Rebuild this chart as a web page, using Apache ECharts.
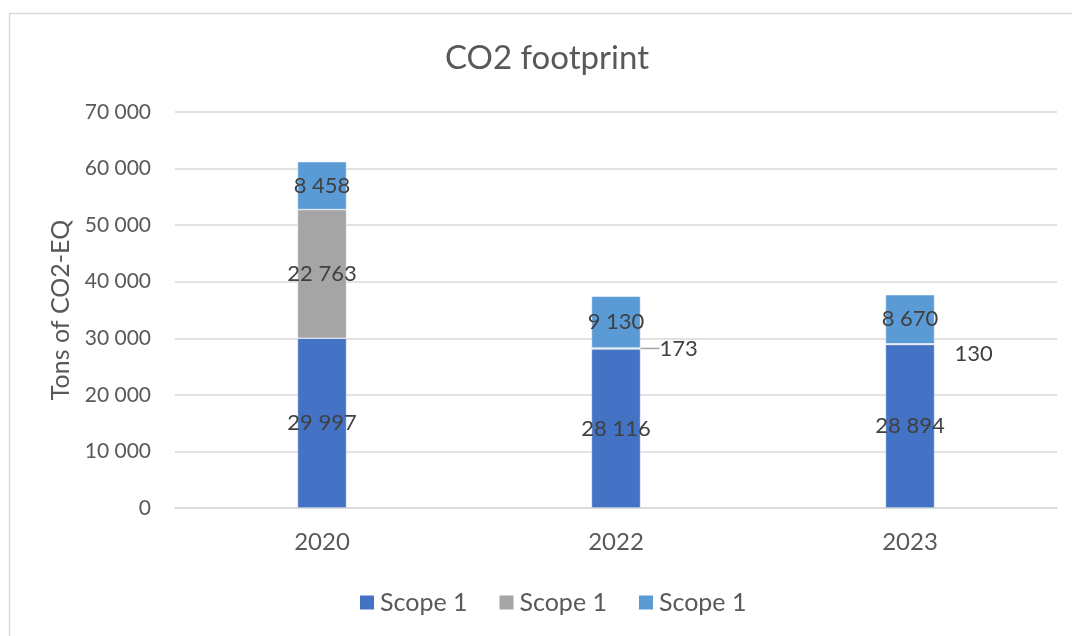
<!DOCTYPE html>
<html>
<head>
<meta charset="utf-8">
<script src="https://cdn.jsdelivr.net/npm/echarts@6/dist/echarts.min.js"></script>
<style>
  html, body { margin: 0; padding: 0; background: #fff; }
  #chart { width: 1072px; height: 636px; }
</style>
</head>
<body>
<div id="chart"></div>
<script>
// Emissions per year, stacked by scope (tons CO2-eq)
const years = ['2020', '2022', '2023'];
const scopeNames = ['Scope 1', 'Scope 1', 'Scope 1'];
const scopeA = [29997, 28116, 28894];
const scopeB = [22763, 173, 130];
const scopeC = [8458, 9130, 8670];
const yTicks = [0, 10000, 20000, 30000, 40000, 50000, 60000, 70000];

const FONT = 'Lato';
const colors = ['#4472C4', '#A5A5A5', '#5B9BD5'];

// thousands separated by a space: 29 997
const fmt = v => String(v).replace(/\B(?=(\d{3})+(?!\d))/g, ' ');

const baseLabel = {
  show: true,
  position: 'inside',
  color: '#404040',
  fontFamily: FONT,
  fontSize: 22,
  formatter: p => fmt(p.value)
};

// the two small middle segments carry their label beside the bar
const middleData = scopeB.map((v, i) => {
  if (v > 1000) return v;
  if (i === 1) {
    return {
      value: v,
      label: { position: 'right', distance: 19 },
      labelLine: { show: true, lineStyle: { color: '#A5A5A5', width: 1.5 } }
    };
  }
  return { value: v, label: { position: 'right', distance: 20, offset: [0, 10] } };
});

const chart = echarts.init(document.getElementById('chart'), null, { renderer: 'canvas' });

chart.setOption({
  backgroundColor: '#ffffff',
  animation: false,
  title: {
    text: 'CO2 footprint',
    left: 440,
    top: 37,
    textStyle: { fontFamily: FONT, fontSize: 33, fontWeight: 'normal', color: '#595959' }
  },
  graphic: [{
    type: 'rect',
    shape: { x: 9.5, y: 13.5, width: 1100, height: 700 },
    style: { fill: 'none', stroke: '#D9D9D9', lineWidth: 1.5 },
    silent: true
  }],
  legend: {
    left: 353,
    top: 585,
    itemWidth: 16,
    itemHeight: 16,
    itemGap: 30,
    icon: 'rect',
    textStyle: { fontFamily: FONT, fontSize: 25, color: '#595959' },
    data: [0, 1, 2].map(i => ({ name: 's' + i }))
  },
  grid: { left: 175, right: 15, top: 112, bottom: 128, containLabel: false },
  xAxis: {
    type: 'category',
    data: years,
    axisLine: { show: true, lineStyle: { color: '#D9D9D9', width: 1.5 } },
    axisTick: { show: false },
    axisLabel: { fontFamily: FONT, fontSize: 24, color: '#595959', margin: 22 }
  },
  yAxis: {
    type: 'value',
    min: yTicks[0],
    max: yTicks[yTicks.length - 1],
    interval: yTicks[1] - yTicks[0],
    name: 'Tons of CO2-EQ',
    nameLocation: 'middle',
    nameGap: 102,
    nameTextStyle: { fontFamily: FONT, fontSize: 25, color: '#595959' },
    axisLine: { show: false },
    axisTick: { show: false },
    splitLine: { lineStyle: { color: '#D9D9D9', width: 1.5 } },
    axisLabel: { fontFamily: FONT, fontSize: 21, color: '#595959', margin: 24, formatter: v => fmt(v) }
  },
  series: [
    { name: 's0', type: 'bar', stack: 'co2', barWidth: 49, data: scopeA,
      itemStyle: { color: colors[0], borderColor: '#ffffff', borderWidth: 0.5 }, label: baseLabel },
    { name: 's1', type: 'bar', stack: 'co2', barWidth: 49, data: middleData,
      itemStyle: { color: colors[1], borderColor: '#ffffff', borderWidth: 0.5 }, label: baseLabel },
    { name: 's2', type: 'bar', stack: 'co2', barWidth: 49, data: scopeC,
      itemStyle: { color: colors[2], borderColor: '#ffffff', borderWidth: 0.5 }, label: baseLabel }
  ]
});

// legend entries show the scope names; this second pass also settles the leader line
chart.setOption({
  legend: { formatter: name => scopeNames[Number(name.slice(1))] }
});
</script>
</body>
</html>
